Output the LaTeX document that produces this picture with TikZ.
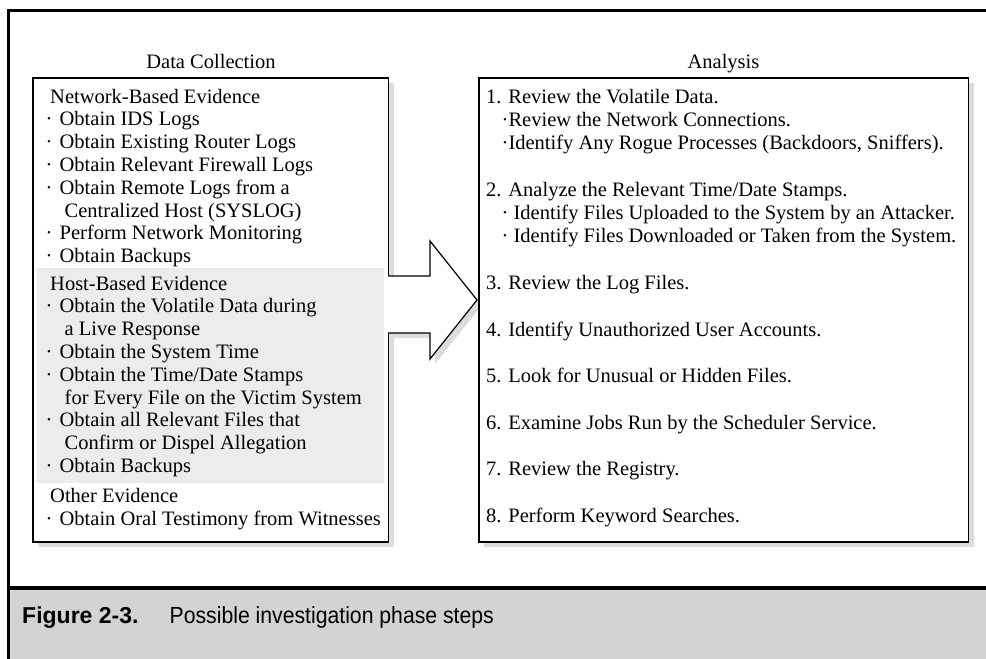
\documentclass[tikz,border=0pt]{standalone}
\usepackage{fontspec}
\setmainfont{Liberation Serif}
\newfontfamily\capfont{Liberation Sans}
\newfontfamily\capnarrow[FakeStretch=0.91]{Liberation Sans}
\definecolor{capgray}{HTML}{D3D3D3}
\definecolor{hostgray}{HTML}{ECECEC}
\definecolor{shadowgray}{HTML}{DCDCDC}
\newcommand\bul{\makebox[14pt][l]{\textperiodcentered}}
\begin{document}
\begin{tikzpicture}[x=1pt,y=-1pt,
  txt/.style={anchor=base west, inner sep=0pt, font=\fontsize{20.5}{24}\selectfont},
  title/.style={anchor=base, inner sep=0pt, font=\fontsize{20.5}{24}\selectfont},
  panel/.style={draw=black, line width=1.2pt, fill=white},
  frameline/.style={line width=3pt, black}]
\useasboundingbox (0,0) rectangle (986,659);

% caption band and outer frame
\fill[capgray] (8.7,589.5) rectangle (986,659);
\draw[frameline] (986,10.3) -- (8.7,10.3) -- (8.7,659);
\draw[line width=4pt] (8.7,587.5) -- (986,587.5);

% column titles
\node[title] (tcol) at (211,68) {Data Collection};
\node[title] (tana) at (723.5,68) {Analysis};

% shadows
\fill[shadowgray] (38,82.5) rectangle (393.5,546.5);
\fill[shadowgray] (484,82.5) rectangle (973.5,546.5);
\fill[shadowgray] (393,281) -- (435,281) -- (435,246) -- (482,305) -- (435,364) -- (435,338) -- (393,338) -- cycle;

% the two panels
\draw[panel] (33,78) rectangle (388.5,542);
\fill[hostgray] (37,268) rectangle (384,483);
\draw[panel] (479,78) rectangle (968.5,542);

% block arrow from collection to analysis
\fill[white] (387.5,276) -- (430,276) -- (430,241) -- (477,300) -- (430,359) -- (430,333) -- (387.5,333) -- cycle;
\draw[line width=1.2pt, line join=miter] (388,276) -- (430,276) -- (430,241) -- (477,300) -- (430,359) -- (430,333) -- (388,333);

% data collection list
\node[txt] (n0) at (50,103.0) {Network-Based Evidence};
\node[txt] (n1) at (45.5,125.8) {\bul Obtain IDS Logs};
\node[txt] (n2) at (45.5,148.6) {\bul Obtain Existing Router Logs};
\node[txt] (n3) at (45.5,171.4) {\bul Obtain Relevant Firewall Logs};
\node[txt] (n4) at (45.5,194.2) {\bul Obtain Remote Logs from a};
\node[txt] (n5) at (64.5,217.0) {Centralized Host (SYSLOG)};
\node[txt] (n6) at (45.5,239.8) {\bul Perform Network Monitoring};
\node[txt] (n7) at (45.5,262.6) {\bul Obtain Backups};
\node[txt] (h0) at (50,290.0) {Host-Based Evidence};
\node[txt] (h1) at (45.5,312.8) {\bul Obtain the Volatile Data during};
\node[txt] (h2) at (64.5,335.6) {a Live Response};
\node[txt] (h3) at (45.5,358.4) {\bul Obtain the System Time};
\node[txt] (h4) at (45.5,381.2) {\bul Obtain the Time/Date Stamps};
\node[txt] (h5) at (64.5,404.0) {for Every File on the Victim System};
\node[txt] (h6) at (45.5,426.8) {\bul Obtain all Relevant Files that};
\node[txt] (h7) at (64.5,449.6) {Confirm or Dispel Allegation};
\node[txt] (h8) at (45.5,472.4) {\bul Obtain Backups};
\node[txt] (o0) at (50,502.8) {Other Evidence};
\node[txt] (o1) at (45.5,525.6) {\bul Obtain Oral Testimony from Witnesses};

% analysis steps
\node[txt] (a1)  at (486,103.0) {1. Review the Volatile Data.};
\node[txt] (a1a) at (501.5,126.3) {\textperiodcentered Review the Network Connections.};
\node[txt] (a1b) at (501.5,149.6) {\textperiodcentered Identify Any Rogue Processes (Backdoors, Sniffers).};
\node[txt] (a2)  at (486,196.2) {2. Analyze the Relevant Time/Date Stamps.};
\node[txt] (a2a) at (501.5,219.5) {\textperiodcentered\ Identify Files Uploaded to the System by an Attacker.};
\node[txt] (a2b) at (501.5,242.8) {\textperiodcentered\ Identify Files Downloaded or Taken from the System.};
\node[txt] (a3)  at (486,289.4) {3. Review the Log Files.};
\node[txt] (a4)  at (486,336.0) {4. Identify Unauthorized User Accounts.};
\node[txt] (a5)  at (486,382.6) {5. Look for Unusual or Hidden Files.};
\node[txt] (a6)  at (486,429.2) {6. Examine Jobs Run by the Scheduler Service.};
\node[txt] (a7)  at (486,475.8) {7. Review the Registry.};
\node[txt] (a8)  at (486,522.4) {8. Perform Keyword Searches.};

% caption
\node[anchor=base west, inner sep=0pt, font=\capfont\bfseries\fontsize{23}{26}\selectfont] (cfig) at (22,623.3) {Figure 2-3.};
\node[anchor=base west, inner sep=0pt, font=\capnarrow\fontsize{23.3}{26}\selectfont] (ctxt) at (169.5,623.3) {Possible investigation phase steps};
\end{tikzpicture}
\end{document}
